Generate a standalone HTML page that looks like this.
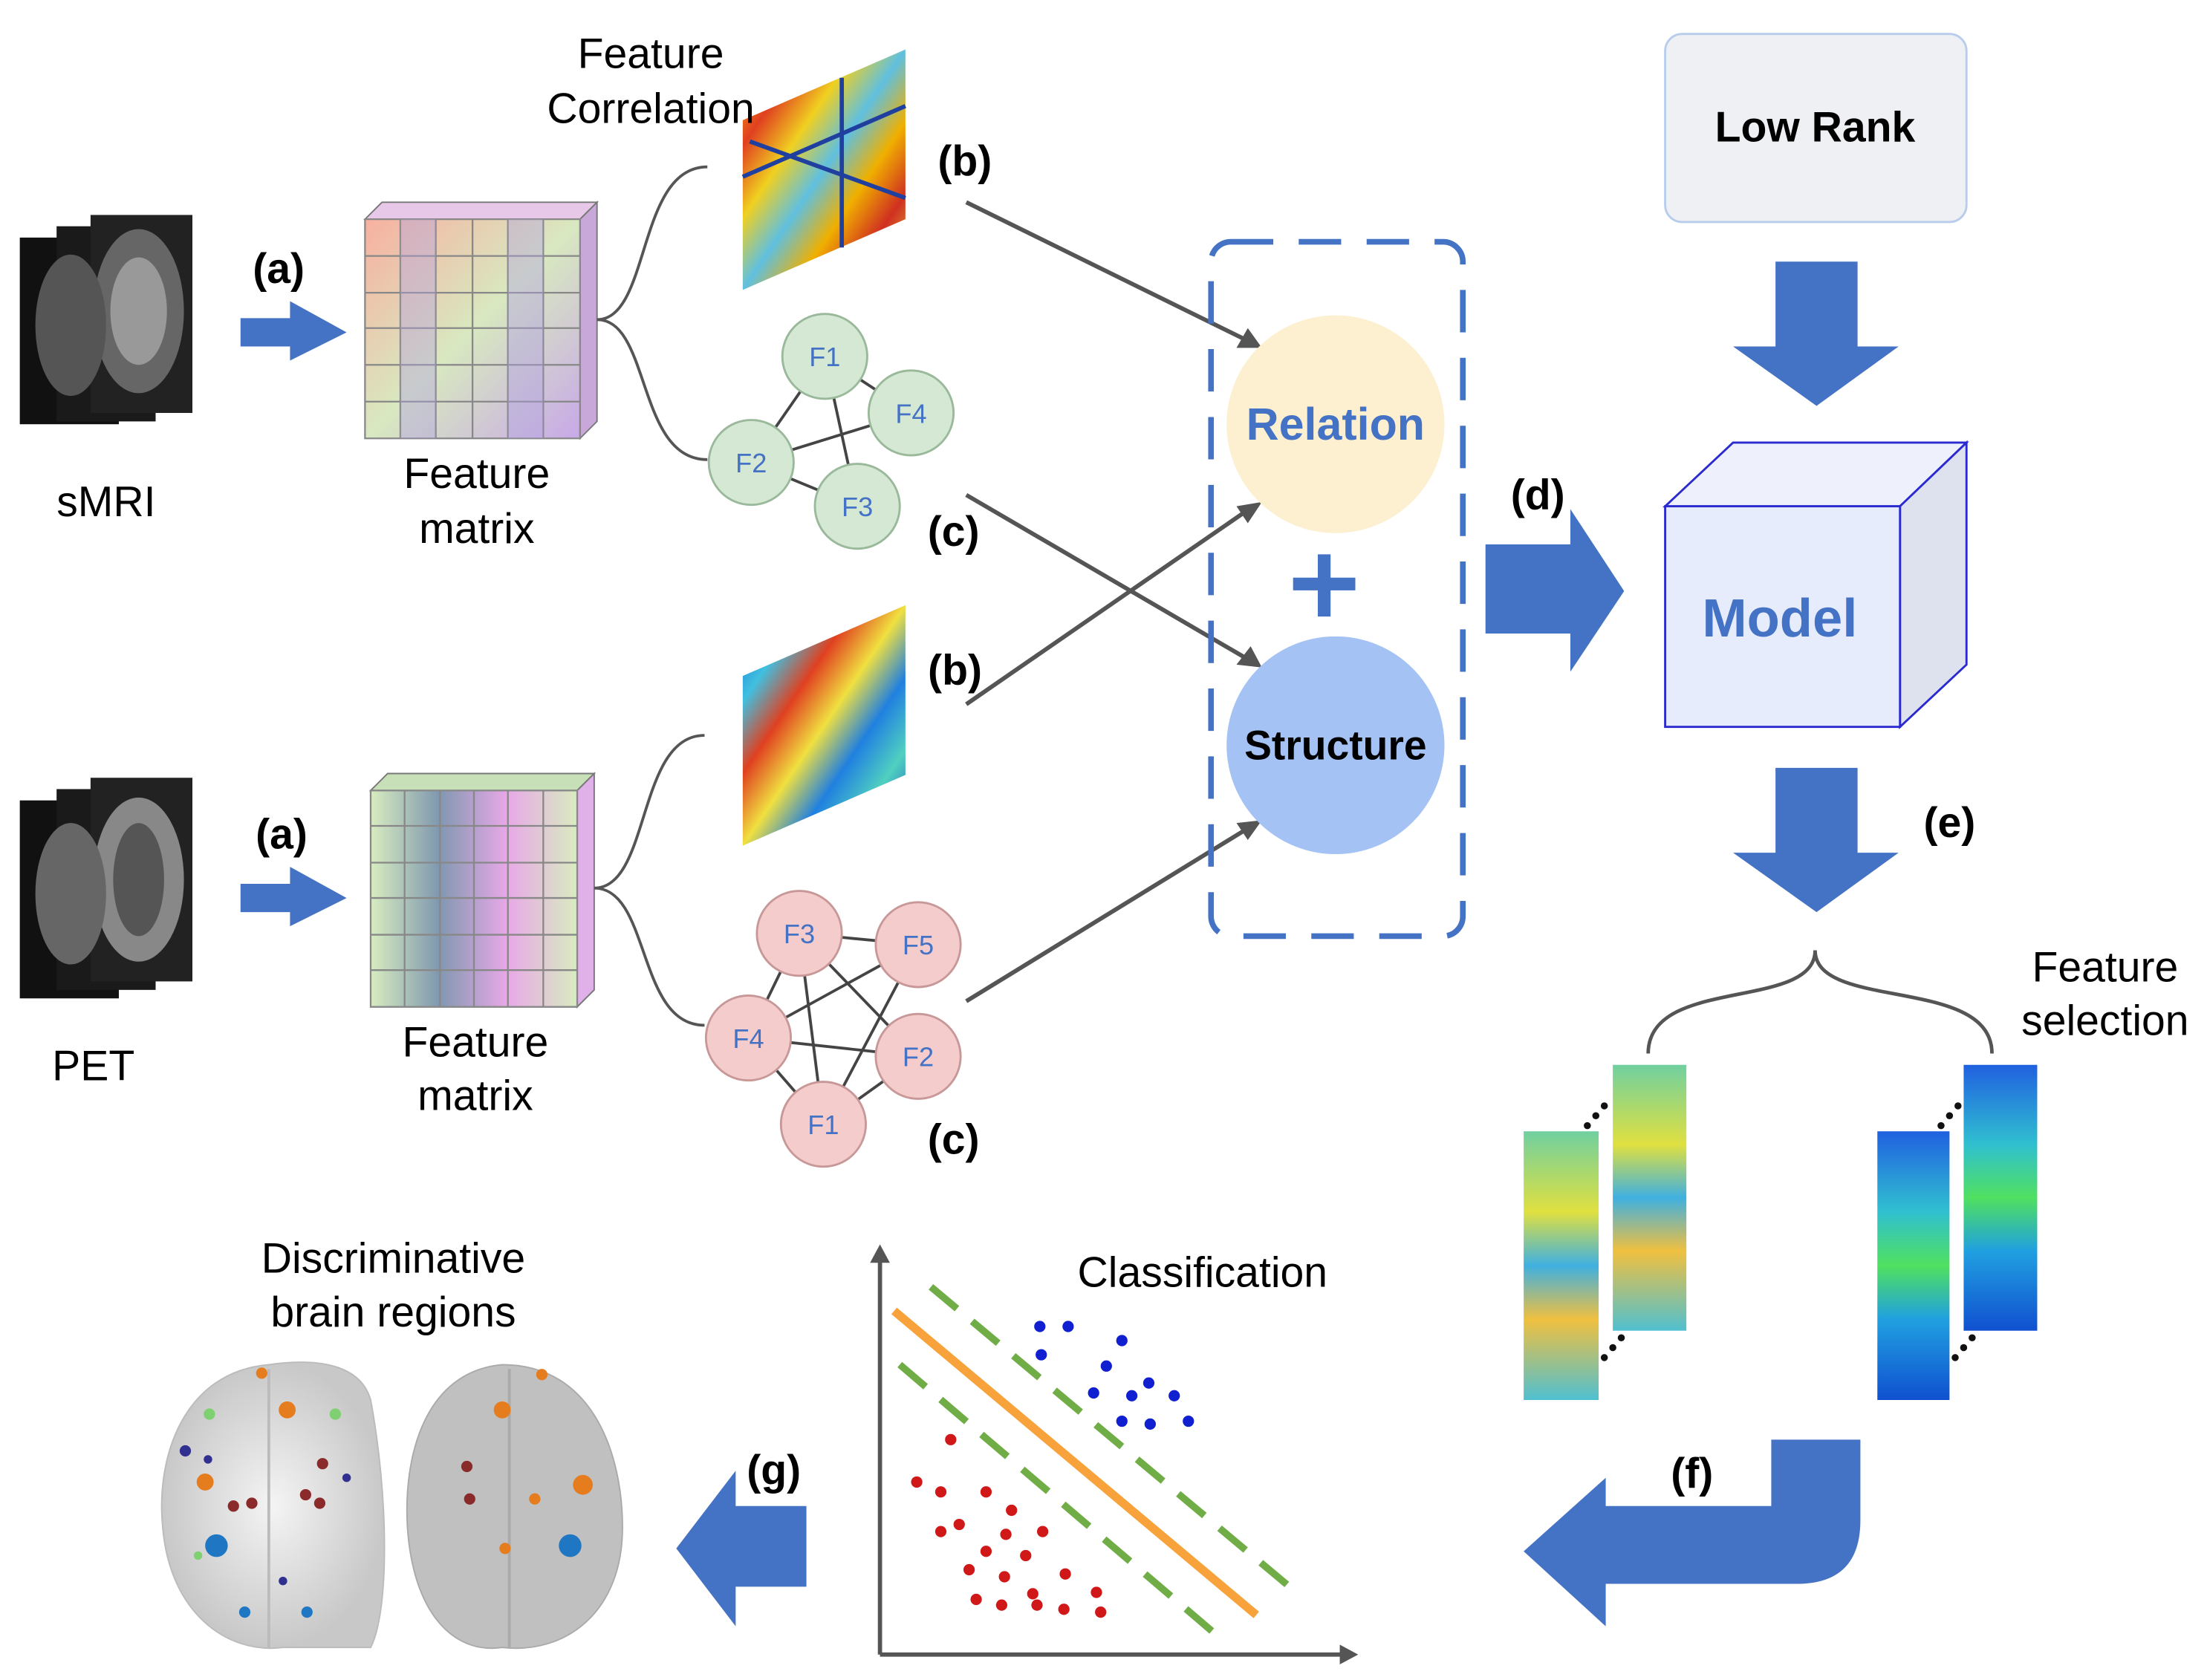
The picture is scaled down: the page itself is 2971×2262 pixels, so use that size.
<!DOCTYPE html>
<html><head><meta charset="utf-8"><style>
html,body{margin:0;padding:0;background:#fff}
svg{display:block}
text{font-family:"Liberation Sans",sans-serif}
</style></head><body>
<svg width="2971" height="2262" viewBox="0 0 1560 1188" preserveAspectRatio="none" xmlns="http://www.w3.org/2000/svg">
<defs>
<linearGradient id="hm1" x1="0" y1="0" x2="1" y2="1">
<stop offset="0" stop-color="#f7c400"/><stop offset="0.2" stop-color="#e04020"/><stop offset="0.35" stop-color="#f0d020"/><stop offset="0.5" stop-color="#60c0e0"/><stop offset="0.65" stop-color="#f0b000"/><stop offset="0.8" stop-color="#d03020"/><stop offset="1" stop-color="#e0e040"/></linearGradient>
<linearGradient id="hm2" x1="0" y1="0" x2="1" y2="1">
<stop offset="0" stop-color="#1060d0"/><stop offset="0.2" stop-color="#40c0e0"/><stop offset="0.35" stop-color="#e04020"/><stop offset="0.5" stop-color="#f0e040"/><stop offset="0.65" stop-color="#2080e0"/><stop offset="0.8" stop-color="#50d0c0"/><stop offset="1" stop-color="#1040c0"/></linearGradient>
<linearGradient id="st1" x1="0" y1="0" x2="0" y2="1">
<stop offset="0" stop-color="#70d0a0"/><stop offset="0.3" stop-color="#e0e040"/><stop offset="0.5" stop-color="#40b0e0"/><stop offset="0.7" stop-color="#f0c040"/><stop offset="1" stop-color="#50c0d0"/></linearGradient>
<linearGradient id="st2" x1="0" y1="0" x2="0" y2="1">
<stop offset="0" stop-color="#2060e0"/><stop offset="0.3" stop-color="#30c0d0"/><stop offset="0.5" stop-color="#50e060"/><stop offset="0.7" stop-color="#20a0e0"/><stop offset="1" stop-color="#1050d0"/></linearGradient>
<linearGradient id="mat1" x1="0" y1="0" x2="1" y2="1"><stop offset="0" stop-color="#f8b0a0"/><stop offset="0.5" stop-color="#d8e8c0"/><stop offset="1" stop-color="#c8a8e8"/></linearGradient>
<linearGradient id="mat2" x1="0" y1="0" x2="1" y2="0"><stop offset="0" stop-color="#d8ecc0"/><stop offset="0.33" stop-color="#8098b0"/><stop offset="0.66" stop-color="#e8a8e8"/><stop offset="1" stop-color="#d8ecc0"/></linearGradient>
<radialGradient id="brain"><stop offset="0" stop-color="#f4f4f4"/><stop offset="1" stop-color="#c8c8c8"/></radialGradient>
<pattern id="grid1" width="27.3" height="27.8" patternUnits="userSpaceOnUse" x="258" y="143"><rect width="27.3" height="27.8" fill="none" stroke="#777" stroke-width="1"/></pattern>
</defs>

<!-- sMRI -->
<g>
<rect x="14" y="168" width="70" height="132" fill="#111"/><rect x="40" y="160" width="70" height="138" fill="#1a1a1a"/><rect x="64" y="152" width="72" height="140" fill="#222"/>
<ellipse cx="98" cy="220" rx="32" ry="58" fill="#666"/><ellipse cx="98" cy="220" rx="20" ry="38" fill="#999"/>
<ellipse cx="50" cy="230" rx="25" ry="50" fill="#555"/>
</g>
<text x="75" y="365" font-size="30" text-anchor="middle">sMRI</text>
<polygon points="170,225 205,225 205,213 245,235 205,255 205,245 170,245" fill="#4472c4"/>
<text x="197" y="200" font-size="30" font-weight="bold" text-anchor="middle">(a)</text>
<!-- matrix 1 -->
<polygon points="258,155 270,143 422,143 410,155" fill="#e8c8e8" stroke="#777"/>
<polygon points="410,155 422,143 422,298 410,310" fill="#c8a8d8" stroke="#777"/>
<rect x="258" y="155" width="152" height="155" fill="url(#mat1)"/>
<g stroke="#888" stroke-width="1.2">
<path d="M258 155h152v155h-152z" fill="none"/>
<path d="M283 155v155M308 155v155M334 155v155M359 155v155M384 155v155"/>
<path d="M258 181h152M258 207h152M258 232h152M258 258h152M258 284h152"/>
</g>
<rect x="283" y="155" width="25" height="155" fill="#b0a0e0" opacity="0.4"/>
<rect x="359" y="155" width="25" height="155" fill="#b0a0e0" opacity="0.4"/>
<text x="337" y="345" font-size="30" text-anchor="middle">Feature</text>
<text x="337" y="384" font-size="30" text-anchor="middle">matrix</text>
<path d="M422 226 C460 226 450 118 500 118 M422 226 C460 226 450 325 500 325" fill="none" stroke="#555" stroke-width="2"/>
<!-- heatmap 1 -->
<polygon points="525,85 640,35 640,155 525,205" fill="url(#hm1)"/>
<path d="M595 55 V175 M525 125 L640 75 M530 100 L640 140" stroke="#2040a0" stroke-width="3"/>
<text x="460" y="48" font-size="30" text-anchor="middle">Feature</text>
<text x="460" y="87" font-size="30" text-anchor="middle">Correlation</text>
<text x="682" y="124" font-size="30" font-weight="bold" text-anchor="middle">(b)</text>
<!-- graph green -->
<g stroke="#444" stroke-width="2"><path d="M583 252L644 292M583 252L531 327M583 252L606 358M531 327L644 292M531 327L606 358"/></g>
<g fill="#d5e8d4" stroke="#9ab89a" stroke-width="1.5">
<circle cx="583" cy="252" r="30"/><circle cx="644" cy="292" r="30"/><circle cx="531" cy="327" r="30"/><circle cx="606" cy="358" r="30"/></g>
<g font-size="19" fill="#4472c4" text-anchor="middle"><text x="583" y="259">F1</text><text x="644" y="299">F4</text><text x="531" y="334">F2</text><text x="606" y="365">F3</text></g>
<text x="674" y="386" font-size="30" font-weight="bold" text-anchor="middle">(c)</text>

<!-- PET -->
<rect x="14" y="566" width="70" height="140" fill="#111"/><rect x="40" y="558" width="70" height="142" fill="#1a1a1a"/><rect x="64" y="550" width="72" height="144" fill="#222"/>
<ellipse cx="98" cy="622" rx="32" ry="58" fill="#888"/><ellipse cx="98" cy="622" rx="18" ry="40" fill="#555"/>
<ellipse cx="50" cy="632" rx="25" ry="50" fill="#666"/>
<text x="66" y="764" font-size="30" text-anchor="middle">PET</text>
<polygon points="170,625 205,625 205,613 245,635 205,655 205,645 170,645" fill="#4472c4"/>
<text x="199" y="600" font-size="30" font-weight="bold" text-anchor="middle">(a)</text>
<polygon points="262,559 274,547 420,547 408,559" fill="#c8e0b8" stroke="#777"/>
<polygon points="408,559 420,547 420,700 408,712" fill="#e0b0e8" stroke="#777"/>
<rect x="262" y="559" width="146" height="153" fill="url(#mat2)"/>
<g stroke="#888" stroke-width="1.2">
<path d="M262 559h146v153h-146z" fill="none"/>
<path d="M286 559v153M311 559v153M335 559v153M359 559v153M384 559v153"/>
<path d="M262 584h146M262 610h146M262 635h146M262 661h146M262 686h146"/>
</g>
<text x="336" y="747" font-size="30" text-anchor="middle">Feature</text>
<text x="336" y="785" font-size="30" text-anchor="middle">matrix</text>
<path d="M420 628 C460 628 450 520 498 520 M420 628 C460 628 450 725 498 725" fill="none" stroke="#555" stroke-width="2"/>
<polygon points="525,478 640,428 640,548 525,598" fill="url(#hm2)"/>
<text x="675" y="484" font-size="30" font-weight="bold" text-anchor="middle">(b)</text>
<!-- graph pink -->
<g stroke="#444" stroke-width="2"><path d="M565 660L649 668M565 660L529 734M565 660L649 747M565 660L582 795M649 668L529 734M649 668L582 795M529 734L649 747M649 747L582 795M529 734L582 795"/></g>
<g fill="#f4cccc" stroke="#c89898" stroke-width="1.5">
<circle cx="565" cy="660" r="30"/><circle cx="649" cy="668" r="30"/><circle cx="529" cy="734" r="30"/><circle cx="649" cy="747" r="30"/><circle cx="582" cy="795" r="30"/></g>
<g font-size="19" fill="#4472c4" text-anchor="middle"><text x="565" y="667">F3</text><text x="649" y="675">F5</text><text x="529" y="741">F4</text><text x="649" y="754">F2</text><text x="582" y="802">F1</text></g>
<text x="674" y="816" font-size="30" font-weight="bold" text-anchor="middle">(c)</text>

<!-- connectors -->
<g stroke="#555" stroke-width="3" fill="none">
<path d="M683 143L880 240M683 350L880 465M683 498L880 362M683 708L880 587"/></g>
<g fill="#555">
<polygon points="892,246 874,246 882,232"/><polygon points="892,472 874,470 884,457"/><polygon points="892,355 882,370 874,358"/><polygon points="892,580 882,594 874,582"/></g>

<!-- dashed box -->
<rect x="856" y="171" width="178" height="491" rx="14" fill="none" stroke="#4472c4" stroke-width="4" stroke-dasharray="30,18"/>
<circle cx="944" cy="300" r="77" fill="#fdf0d0"/>
<text x="944" y="311" font-size="32" font-weight="bold" fill="#4472c4" text-anchor="middle">Relation</text>
<path d="M914 413h44M936 392v44" stroke="#4472c4" stroke-width="9"/>
<circle cx="944" cy="527" r="77" fill="#a4c2f4"/>
<text x="944" y="537" font-size="29" font-weight="bold" text-anchor="middle">Structure</text>

<!-- (d) -->
<polygon points="1050,385 1110,385 1110,360 1148,418 1110,475 1110,448 1050,448" fill="#4472c4"/>
<text x="1087" y="360" font-size="30" font-weight="bold" text-anchor="middle">(d)</text>

<!-- Low rank -->
<rect x="1177" y="24" width="213" height="133" rx="12" fill="#eef0f4" stroke="#b8ccec" stroke-width="1.5"/>
<text x="1283" y="100" font-size="30" font-weight="bold" text-anchor="middle">Low Rank</text>
<polygon points="1255,185 1313,185 1313,245 1342,245 1284,287 1225,245 1255,245" fill="#4472c4"/>
<!-- model cube -->
<polygon points="1177,358 1225,313 1390,313 1343,358" fill="#eef1fc" stroke="#2a2ad0" stroke-width="1.5"/>
<polygon points="1343,358 1390,313 1390,470 1343,514" fill="#dde2ee" stroke="#2a2ad0" stroke-width="1.5"/>
<rect x="1177" y="358" width="166" height="156" fill="#e6ecfb" stroke="#2a2ad0" stroke-width="1.5"/>
<text x="1258" y="450" font-size="38" font-weight="bold" fill="#4472c4" text-anchor="middle">Model</text>
<polygon points="1255,543 1313,543 1313,603 1342,603 1284,645 1225,603 1255,603" fill="#4472c4"/>
<text x="1378" y="592" font-size="30" font-weight="bold" text-anchor="middle">(e)</text>
<path d="M1165 745 C1165 690 1283 715 1283 672 C1283 715 1408 690 1408 745" fill="none" stroke="#555" stroke-width="2.5"/>
<text x="1488" y="694" font-size="30" text-anchor="middle">Feature</text>
<text x="1488" y="732" font-size="30" text-anchor="middle">selection</text>
<!-- strips -->
<rect x="1077" y="800" width="53" height="190" fill="url(#st1)"/>
<rect x="1140" y="753" width="52" height="188" fill="url(#st1)"/>
<rect x="1327" y="800" width="51" height="190" fill="url(#st2)"/>
<rect x="1388" y="753" width="52" height="188" fill="url(#st2)"/>
<g fill="#111"><circle cx="1122" cy="796" r="2.5"/><circle cx="1128" cy="789" r="2.5"/><circle cx="1134" cy="782" r="2.5"/><circle cx="1134" cy="960" r="2.5"/><circle cx="1140" cy="953" r="2.5"/><circle cx="1146" cy="946" r="2.5"/>
<circle cx="1372" cy="796" r="2.5"/><circle cx="1378" cy="789" r="2.5"/><circle cx="1384" cy="782" r="2.5"/><circle cx="1382" cy="960" r="2.5"/><circle cx="1388" cy="953" r="2.5"/><circle cx="1394" cy="946" r="2.5"/></g>
<!-- (f) -->
<path d="M1252 1018 H1315 V1075 Q1315 1120 1270 1120 H1135 V1150 L1077 1097 L1135 1045 V1065 H1252 Z" fill="#4472c4"/>
<text x="1196" y="1052" font-size="30" font-weight="bold" text-anchor="middle">(f)</text>

<!-- classification -->
<path d="M622 1170V890M622 1170H950" stroke="#555" stroke-width="3"/>
<polygon points="615,893 629,893 622,880" fill="#555"/><polygon points="947,1163 947,1177 960,1170" fill="#555"/>
<text x="850" y="910" font-size="30" text-anchor="middle">Classification</text>
<path d="M632 927L888 1142" stroke="#f7a23a" stroke-width="6"/>
<path d="M658 910L915 1125M636 965L862 1158" stroke="#70ad47" stroke-width="5" stroke-dasharray="24,14"/>
<g fill="#1020d0"><circle cx="735" cy="938" r="4"/><circle cx="755" cy="938" r="4"/><circle cx="793" cy="948" r="4"/><circle cx="736" cy="958" r="4"/><circle cx="782" cy="966" r="4"/><circle cx="812" cy="978" r="4"/><circle cx="773" cy="985" r="4"/><circle cx="800" cy="987" r="4"/><circle cx="830" cy="987" r="4"/><circle cx="793" cy="1005" r="4"/><circle cx="813" cy="1007" r="4"/><circle cx="840" cy="1005" r="4"/></g>
<g fill="#d01818"><circle cx="672" cy="1018" r="4"/><circle cx="648" cy="1048" r="4"/><circle cx="665" cy="1055" r="4"/><circle cx="697" cy="1055" r="4"/><circle cx="715" cy="1068" r="4"/><circle cx="678" cy="1078" r="4"/><circle cx="665" cy="1083" r="4"/><circle cx="711" cy="1085" r="4"/><circle cx="737" cy="1083" r="4"/><circle cx="697" cy="1097" r="4"/><circle cx="725" cy="1100" r="4"/><circle cx="685" cy="1110" r="4"/><circle cx="710" cy="1115" r="4"/><circle cx="753" cy="1113" r="4"/><circle cx="730" cy="1127" r="4"/><circle cx="775" cy="1126" r="4"/><circle cx="690" cy="1131" r="4"/><circle cx="708" cy="1135" r="4"/><circle cx="733" cy="1135" r="4"/><circle cx="752" cy="1138" r="4"/><circle cx="778" cy="1140" r="4"/></g>
<!-- (g) -->
<polygon points="570,1065 520,1065 520,1040 478,1095 520,1150 520,1122 570,1122" fill="#4472c4"/>
<text x="547" y="1050" font-size="30" font-weight="bold" text-anchor="middle">(g)</text>
<!-- brains -->
<text x="278" y="900" font-size="30" text-anchor="middle">Discriminative</text>
<text x="278" y="938" font-size="30" text-anchor="middle">brain regions</text>
<path d="M190 965 C130 970 110 1030 115 1080 C120 1140 160 1170 200 1165 L262 1165 C275 1140 275 1060 262 990 C255 965 225 960 190 965 Z" fill="url(#brain)" stroke="#bbb"/>
<path d="M190 968 V1165" stroke="#bbb" stroke-width="2"/>
<path d="M355 965 C300 970 285 1030 288 1080 C292 1140 320 1170 355 1165 C400 1170 440 1140 440 1080 C440 1030 420 965 355 965 Z" fill="#c0c0c0" stroke="#aaa"/>
<path d="M360 968 V1165" stroke="#aaa" stroke-width="2"/>
<g fill="#e57c1e"><circle cx="203" cy="997" r="6"/><circle cx="185" cy="971" r="4"/><circle cx="145" cy="1048" r="6"/><circle cx="355" cy="997" r="6"/><circle cx="412" cy="1050" r="7"/><circle cx="383" cy="972" r="4"/><circle cx="378" cy="1060" r="4"/><circle cx="357" cy="1095" r="4"/></g>
<g fill="#1f77c4"><circle cx="153" cy="1093" r="8"/><circle cx="403" cy="1093" r="8"/><circle cx="173" cy="1140" r="4"/><circle cx="217" cy="1140" r="4"/></g>
<g fill="#8b2a2a"><circle cx="165" cy="1065" r="4"/><circle cx="178" cy="1063" r="4"/><circle cx="228" cy="1035" r="4"/><circle cx="216" cy="1057" r="4"/><circle cx="226" cy="1063" r="4"/><circle cx="330" cy="1037" r="4"/><circle cx="332" cy="1060" r="4"/></g>
<g fill="#7ed070"><circle cx="148" cy="1000" r="4"/><circle cx="237" cy="1000" r="4"/><circle cx="140" cy="1100" r="3"/></g>
<g fill="#303090"><circle cx="131" cy="1026" r="4"/><circle cx="147" cy="1032" r="3"/><circle cx="245" cy="1045" r="3"/><circle cx="200" cy="1118" r="3"/></g>
</svg>
</body></html>
